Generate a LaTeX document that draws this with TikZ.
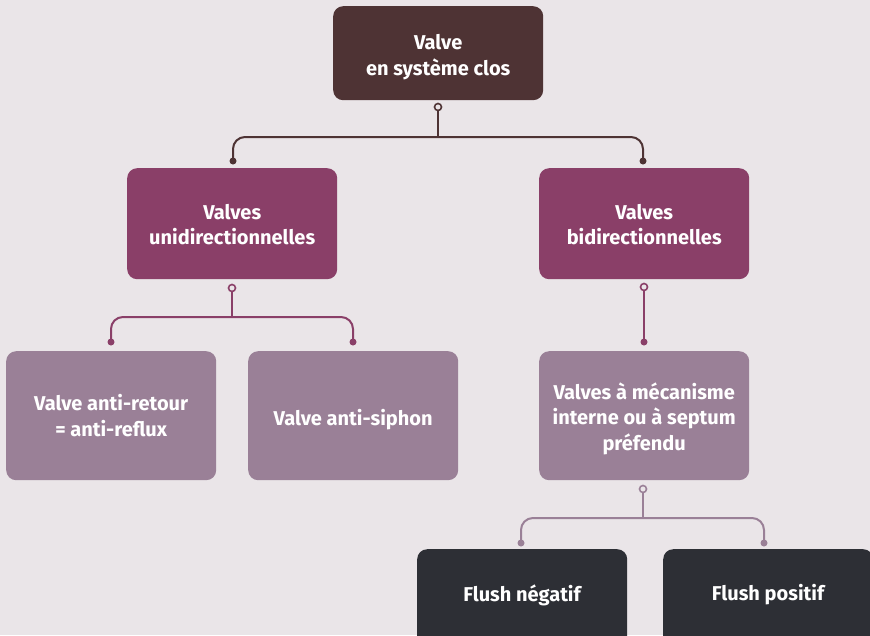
\documentclass[tikz,border=0pt]{standalone}
\usepackage{fontspec}
\setmainfont{Fira Sans}
\definecolor{bg}{HTML}{EAE5E8}
\definecolor{cbrown}{HTML}{4E3334}
\definecolor{cpurple}{HTML}{8A3F68}
\definecolor{cmauve}{HTML}{9A8097}
\definecolor{cdark}{HTML}{2D2F35}
\begin{document}
\begin{tikzpicture}[x=1pt,y=-1pt,
  box/.style={rounded corners=10pt, minimum width=210pt, inner sep=0pt, anchor=north west},
  txt/.style={text=white, align=center, font=\bfseries\fontsize{20}{25.5}\selectfont, inner sep=0pt},
  conn/.style={line width=2pt, rounded corners=12pt},
  opendot/.style={circle, draw, line width=1.6pt, fill=bg, inner sep=0pt, minimum size=7pt},
  fulldot/.style={circle, fill, inner sep=0pt, minimum size=7pt}]
\fill[bg] (0,0) rectangle (870,635);
\useasboundingbox (0,0) rectangle (870,635);
% boxes
\node[box, fill=cbrown, minimum height=94pt] (top) at (333,6) {};
\node[box, fill=cpurple, minimum height=111pt] (uni) at (127,168) {};
\node[box, fill=cpurple, minimum height=111pt] (bi) at (539,168) {};
\node[box, fill=cmauve, minimum height=129pt] (ar) at (6,351) {};
\node[box, fill=cmauve, minimum height=129pt] (as) at (248,351) {};
\node[box, fill=cmauve, minimum height=129pt] (mec) at (539,351) {};
\begin{scope}
\clip (0,0) rectangle (870,635);
\node[box, fill=cdark, minimum height=110pt] (fn) at (417,549) {};
\node[box, fill=cdark, minimum height=110pt] (fp) at (663,549) {};
\end{scope}
% texts
\node[txt, yshift=-4pt] (topt) at (top.center) {Valve\\en système clos};
\node[txt, yshift=-1pt] (unit) at (uni.center) {Valves\\unidirectionnelles};
\node[txt, yshift=-1pt] (bit) at (bi.center) {Valves\\bidirectionnelles};
\node[txt] (art) at (ar.center) {Valve anti-retour\\= anti-reflux};
\node[txt, yshift=-4pt] (ast) at (as.center) {Valve anti-siphon};
\node[txt, yshift=-3pt] (mect) at (mec.center) {Valves à mécanisme\\interne ou à septum\\préfendu};
\node[txt, yshift=-2pt] (fnt) at (522,593) {Flush négatif};
\node[txt, yshift=-2pt] (fpt) at (768,593) {Flush positif};
% connector points
\coordinate (t0) at (438,107);
\coordinate (tl) at (233,161);
\coordinate (tr) at (643,161);
\coordinate (u0) at (232,288);
\coordinate (ul) at (111,342);
\coordinate (ur) at (353,342);
\coordinate (b0) at (644,287);
\coordinate (b1) at (644,342);
\coordinate (m0) at (643,489);
\coordinate (ml) at (521,543);
\coordinate (mr) at (764,543);
% top connector
\draw[conn, cbrown] (t0) -- (438,137);
\draw[conn, cbrown] (tl) -- (233,137) -- (643,137) -- (tr);
\node[fulldot, fill=cbrown] (tld) at (tl) {};
\node[fulldot, fill=cbrown] (trd) at (tr) {};
\node[opendot, draw=cbrown] (t0d) at (t0) {};
% uni connector
\draw[conn, cpurple] (u0) -- (232,317);
\draw[conn, cpurple] (ul) -- (111,317) -- (353,317) -- (ur);
\node[fulldot, fill=cpurple] (uld) at (ul) {};
\node[fulldot, fill=cpurple] (urd) at (ur) {};
\node[opendot, draw=cpurple] (u0d) at (u0) {};
% bi connector
\draw[conn, cpurple] (b0) -- (b1);
\node[fulldot, fill=cpurple] (b1d) at (b1) {};
\node[opendot, draw=cpurple] (b0d) at (b0) {};
% mec connector
\draw[conn, cmauve] (m0) -- (643,518);
\draw[conn, cmauve] (ml) -- (521,518) -- (764,518) -- (mr);
\node[fulldot, fill=cmauve] (mld) at (ml) {};
\node[fulldot, fill=cmauve] (mrd) at (mr) {};
\node[opendot, draw=cmauve] (m0d) at (m0) {};
\end{tikzpicture}
\end{document}
